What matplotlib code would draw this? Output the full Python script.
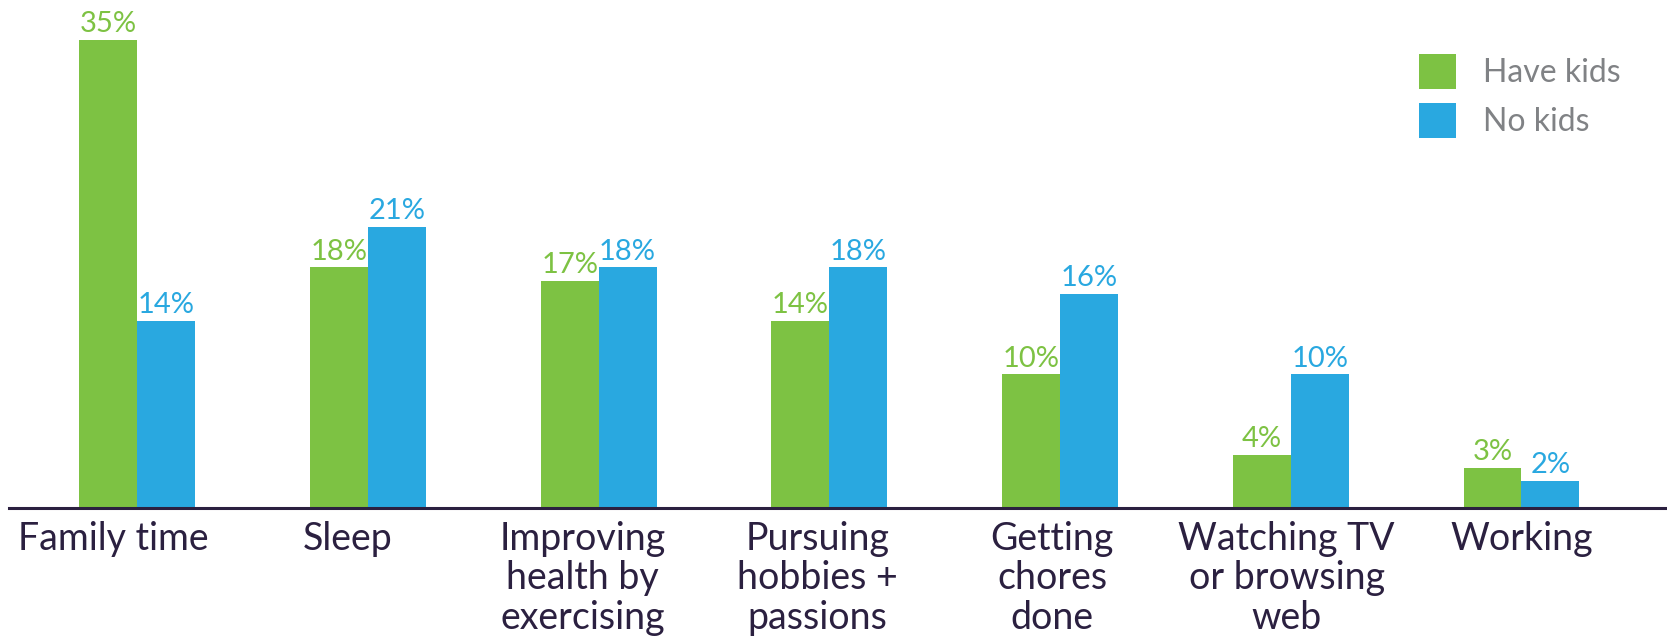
import numpy as np
import matplotlib
matplotlib.use('Agg')
from matplotlib import pyplot as plt

categories = ['Family time', 'Sleep', 'Improving\nhealth by\nexercising',
              'Pursuing\nhobbies +\npassions', 'Getting\nchores\ndone',
              'Watching TV\nor browsing\nweb', 'Working']
have_kids = [35, 18, 17, 14, 10, 4, 3]
no_kids = [14, 21, 18, 18, 16, 10, 2]
series_names = ['Have kids', 'No kids']

GREEN = '#7DC243'
BLUE = '#29A8E0'
DARK = '#2B2040'
GREY = '#808285'

plt.rcParams['font.family'] = ['Lato', 'DejaVu Sans']

fig = plt.figure(figsize=(16.67, 6.39), dpi=100)
ax = fig.add_axes([0.0051, 0.205, 0.9949, 0.795])

x = np.arange(len(categories))
w = 0.251
b1 = ax.bar(x - w / 2, have_kids, w, color=GREEN, label=series_names[0])
b2 = ax.bar(x + w / 2, no_kids, w, color=BLUE, label=series_names[1])

for bars, vals, col in [(b1, have_kids, GREEN), (b2, no_kids, BLUE)]:
    for r, v in zip(bars, vals):
        ax.annotate(f'{v}%', (r.get_x() + r.get_width() / 2, v),
                    xytext=(0, 2), textcoords='offset points',
                    ha='center', va='bottom', fontsize=21, color=col)

ax.set_xlim(-0.558, 6.631)
ax.set_ylim(0, 38.0)

# category names drift slightly left of the bar pairs
ax.set_xticks(x + (x - 6) * 0.0175)
ax.set_xticklabels(categories, fontsize=27, color=DARK, linespacing=1.13,
                   va='top')
ax.tick_params(axis='x', length=0, pad=9)
ax.set_yticks([])

for s in ['top', 'right', 'left']:
    ax.spines[s].set_visible(False)
ax.spines['bottom'].set_color(DARK)
ax.spines['bottom'].set_linewidth(2.2)

leg = ax.legend(loc='upper left', bbox_to_anchor=(0.833, 0.95), frameon=False,
                fontsize=23, handlelength=1.15, handleheight=1.3,
                handletextpad=0.85, labelspacing=0.45)
for t in leg.get_texts():
    t.set_color(GREY)

fig.savefig('out.png', dpi=100)
